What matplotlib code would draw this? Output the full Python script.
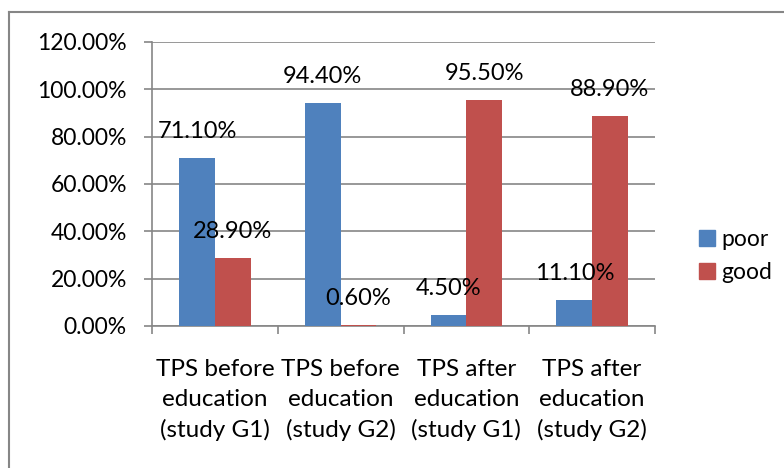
import numpy as np
import matplotlib.pyplot as plt
from matplotlib.lines import Line2D
from matplotlib.patches import Patch

plt.rcParams['font.family'] = ['Lato', 'DejaVu Sans']

categories = ["TPS before\neducation\n(study G1)", "TPS before\neducation\n(study G2)",
              "TPS after\neducation\n(study G1)", "TPS after\neducation\n(study G2)"]
poor = [71.1, 94.4, 4.5, 11.1]
good = [28.9, 0.6, 95.5, 88.9]
yticks = [0, 20, 40, 60, 80, 100, 120]

blue = '#4F81BD'
red = '#C0504D'
grey = '#868686'

fig = plt.figure(figsize=(7.84, 4.68), dpi=100)
ax = fig.add_axes([152 / 784, 1 - 326 / 468, 503 / 784, 284 / 468])

x = np.arange(len(categories))
w = 0.284
b1 = ax.bar(x - w / 2, poor, w, color=blue, zorder=3)
b2 = ax.bar(x + w / 2, good, w, color=red, zorder=3)

# data labels above bars
for bars, vals in ((b1, poor), (b2, good)):
    for rect, v in zip(bars, vals):
        ax.annotate(f"{v:.2f}%", xy=(rect.get_x() + rect.get_width() / 2, v),
                    xytext=(0, 19), textcoords='offset points',
                    ha='center', va='center', fontsize=17, zorder=4)

ax.set_xlim(-0.5, 3.5)
ax.set_ylim(0, 120)
ax.set_yticks(yticks)
ax.set_yticklabels([f"{t:.2f}%" for t in yticks], fontsize=16.5)
ax.yaxis.grid(True, color=grey, linewidth=1.2, zorder=0)

ax.set_xticks(x)
ax.set_xticklabels(categories, fontsize=17.5, linespacing=1.5)
ax.set_xticks(np.arange(-0.5, 4, 1), minor=True)
ax.tick_params(axis='x', which='major', length=0, pad=24)
ax.tick_params(axis='x', which='minor', length=6, width=1.2, color=grey, direction='out')
ax.tick_params(axis='y', length=6, width=1.2, color=grey, pad=12)

for s in ('top', 'right'):
    ax.spines[s].set_visible(False)
for s in ('left', 'bottom'):
    ax.spines[s].set_color(grey)
    ax.spines[s].set_linewidth(1.2)

handles = [Patch(color=blue, label='poor'), Patch(color=red, label='good')]
fig.legend(handles=handles, loc='center left', bbox_to_anchor=(690 / 784, 1 - 256 / 468),
           frameon=False, fontsize=16.5, handlelength=0.68, handleheight=0.68,
           handletextpad=0.3, labelspacing=0.5, borderaxespad=0)

# outer chart border (left and top visible)
fig.add_artist(Line2D([9 / 784, 1], [1 - 12 / 468, 1 - 12 / 468], color=grey, linewidth=1.5))
fig.add_artist(Line2D([9 / 784, 9 / 784], [0, 1 - 12 / 468], color=grey, linewidth=1.5))

plt.savefig('out.png', dpi=100)
